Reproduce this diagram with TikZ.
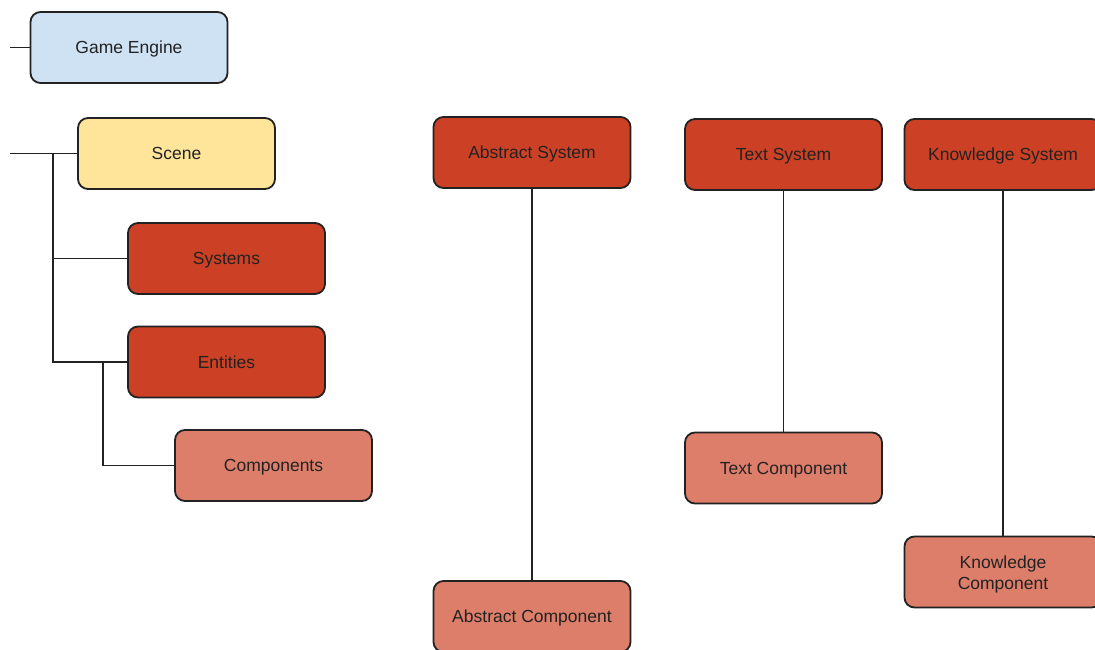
\documentclass[tikz,border=0pt]{standalone}
\usepackage{fontspec}
\setmainfont{Liberation Sans}
\definecolor{enginefill}{HTML}{CFE2F3}
\definecolor{scenefill}{HTML}{FFE599}
\definecolor{sysfill}{HTML}{CC4125}
\definecolor{compfill}{HTML}{DD7E6B}
\definecolor{ink}{HTML}{222222}
\begin{document}
\begin{tikzpicture}[x=1pt,y=-1pt,
  box/.style={draw=ink,line width=1.8pt,rounded corners=10pt,
    minimum width=197pt,minimum height=71pt,inner sep=2pt,align=center,
    font=\fontsize{17.5}{21}\selectfont,text=ink,
    text height=16pt,text depth=3.5pt},
  twoline/.style={text height=37pt,text depth=2.5pt},
  engine/.style={box,fill=enginefill},
  scene/.style={box,fill=scenefill},
  sys/.style={box,fill=sysfill},
  comp/.style={box,fill=compfill},
  link/.style={draw=ink,line width=1.5pt}]
\useasboundingbox (0,0) rectangle (1095,650);
\clip (0,0) rectangle (1095,650);

% left hierarchy
\node[engine] (ge) at (129,47.5) {Game Engine};
\node[scene] (scene) at (176.5,153.5) {Scene};
\node[sys] (systems) at (226.5,258.5) {Systems};
\node[sys] (entities) at (226.5,362) {Entities};
\node[comp] (components) at (273.5,465.5) {Components};

\coordinate (geIn) at (10,47.5);
\coordinate (sceneIn) at (10,153.5);
\coordinate (trunk) at (53,153.5);
\coordinate (branch) at (103,362);

\draw[link] (geIn) -- (ge.west);
\draw[link] (sceneIn) -- (scene.west);
\draw[link] (trunk) |- (systems.west);
\draw[link] (trunk) |- (entities.west);
\draw[link] (branch) |- (components.west);

% system / component pairs
\node[sys] (abssys) at (532,152.5) {Abstract System};
\node[comp] (abscomp) at (532,616.5) {Abstract Component};
\node[sys] (textsys) at (783.5,154.5) {Text System};
\node[comp] (textcomp) at (783.5,468) {Text Component};
\node[sys] (knowsys) at (1003,154.5) {Knowledge System};
\node[comp,twoline] (knowcomp) at (1003,572) {Knowledge\\Component};

\draw[link] (abssys) -- (abscomp);
\draw[link] (textsys) -- (textcomp);
\draw[link] (knowsys) -- (knowcomp);
\end{tikzpicture}
\end{document}
